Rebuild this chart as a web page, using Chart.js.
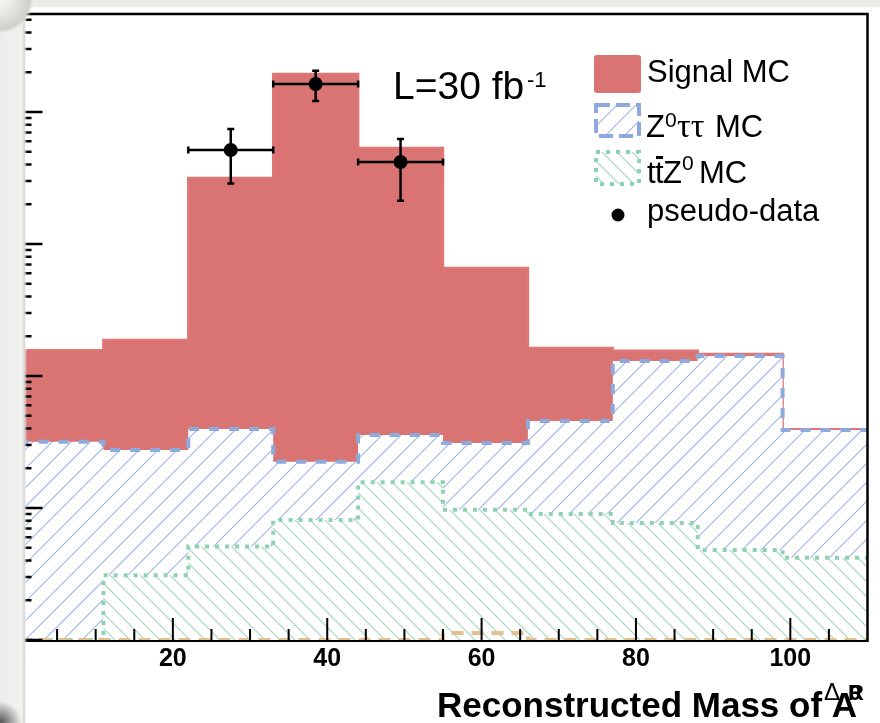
<!DOCTYPE html>
<html lang="en">
<head>
    <meta charset="UTF-8" />
    <title>Reconstructed Mass</title>
    <style>
        html, body {
            margin: 0;
            padding: 0;
            background: #fff;
        }
        #chart-container {
            width: 880px;
            height: 723px;
        }
    </style>
    <script src="https://cdn.jsdelivr.net/npm/chart.js"></script>
</head>
<body>
<div id="chart-container">
    <canvas id="massChart" width="880" height="723"></canvas>
</div>

<script>
  // histogram bins (stacked contents, log scale)
  const binEdges = [0, 11, 22, 33, 44, 55, 66, 77, 88, 99, 110];
  const signalStack = [15.7, 18.7, 316, 1940, 534, 65.8, 16.3, 15.5, 14.7, 3.95];
  const ztautauStack = [3.18, 2.75, 3.97, 2.24, 3.57, 3.11, 4.56, 13.0, 14.2, 3.9];
  const ttzStack = [0.1, 0.31, 0.51, 0.81, 1.57, 0.97, 0.9, 0.77, 0.48, 0.42];
  const otherStack = [0.1, 0.1, 0.1, 0.1, 0.1, 0.113, 0.1, 0.1, 0.1, 0.1];

  // pseudo-data points
  const dataX = [27.5, 38.5, 49.5];
  const dataY = [515, 1630, 418];
  const dataErr = [228, 420, 205];

  const xTickLabels = [0, 20, 40, 60, 80, 100];

  const SANS = '"Liberation Sans", Arial, Helvetica, sans-serif';
  const SERIF = '"Liberation Serif", "Times New Roman", serif';

  const canvas = document.getElementById("massChart");
  const ctx = canvas.getContext("2d");

  function steps(vals) {
    return binEdges.map((e, i) => ({ x: e, y: vals[Math.min(i, vals.length - 1)] }));
  }

  function hatch(color, size, dir) {
    const c = document.createElement("canvas");
    c.width = size;
    c.height = size;
    const g = c.getContext("2d");
    g.fillStyle = "#fff";
    g.fillRect(0, 0, size, size);
    g.strokeStyle = color;
    g.lineWidth = 1.1;
    g.beginPath();
    if (dir === "/") {
      g.moveTo(-1, size + 1); g.lineTo(size + 1, -1);
      g.moveTo(-1, 1); g.lineTo(1, -1);
      g.moveTo(size - 1, size + 1); g.lineTo(size + 1, size - 1);
    } else {
      g.moveTo(-1, -1); g.lineTo(size + 1, size + 1);
      g.moveTo(size - 1, -1); g.lineTo(size + 1, 1);
      g.moveTo(-1, size - 1); g.lineTo(1, size + 1);
    }
    g.stroke();
    return ctx.createPattern(c, "repeat");
  }

  const blueHatch = hatch("#9db5e6", 19, "/");
  const greenHatch = hatch("#9fd6bb", 15, "\\");

  const rootFrame = {
    id: "rootFrame",
    beforeDatasetsDraw(chart) {
      // x axis line goes under the histograms, like ROOT
      const { ctx, chartArea: a } = chart;
      ctx.save();
      ctx.strokeStyle = "#000";
      ctx.lineWidth = 2.5;
      ctx.beginPath();
      ctx.moveTo(a.left, a.bottom + 0.75);
      ctx.lineTo(a.right, a.bottom + 0.75);
      ctx.stroke();
      ctx.restore();
    },
    afterDatasetsDraw(chart) {
      const { ctx, scales: { x, y } } = chart;
      const half = (binEdges[1] - binEdges[0]) / 2;
      ctx.save();
      ctx.strokeStyle = "#000";
      ctx.lineWidth = 2.5;
      dataX.forEach((cx, i) => {
        const px = x.getPixelForValue(cx);
        const py = y.getPixelForValue(dataY[i]);
        const x0 = x.getPixelForValue(cx - half);
        const x1 = x.getPixelForValue(cx + half);
        const y0 = y.getPixelForValue(dataY[i] + dataErr[i]);
        const y1 = y.getPixelForValue(dataY[i] - dataErr[i]);
        ctx.beginPath();
        ctx.moveTo(x0, py); ctx.lineTo(x1, py);
        ctx.moveTo(px, y0); ctx.lineTo(px, y1);
        ctx.moveTo(x0, py - 3.5); ctx.lineTo(x0, py + 3.5);
        ctx.moveTo(x1, py - 3.5); ctx.lineTo(x1, py + 3.5);
        ctx.moveTo(px - 3.5, y0); ctx.lineTo(px + 3.5, y0);
        ctx.moveTo(px - 3.5, y1); ctx.lineTo(px + 3.5, y1);
        ctx.stroke();
      });
      ctx.restore();
    },
    afterDraw(chart) {
      const { ctx, chartArea: a, scales: { x, y } } = chart;
      ctx.save();

      // frame (top, right, left)
      ctx.strokeStyle = "#000";
      ctx.lineWidth = 2.5;
      ctx.beginPath();
      ctx.moveTo(a.left, a.bottom); ctx.lineTo(a.left, a.top);
      ctx.lineTo(a.right, a.top); ctx.lineTo(a.right, a.bottom + 2);
      ctx.stroke();

      // x ticks (inward)
      ctx.lineWidth = 2;
      ctx.beginPath();
      for (let v = 5; v < x.max; v += 5) {
        const px = x.getPixelForValue(v);
        const len = v % 20 === 0 ? 22 : 11;
        ctx.moveTo(px, a.bottom); ctx.lineTo(px, a.bottom - len);
      }
      ctx.stroke();

      // y ticks (log, inward)
      ctx.lineWidth = 2.5;
      ctx.beginPath();
      for (let d = y.min; d < y.max; d *= 10) {
        for (let m = 1; m < 10; m++) {
          const v = m * d;
          if (v > y.max) break;
          const py = y.getPixelForValue(v);
          const len = m === 1 ? 24 : 13;
          ctx.moveTo(a.left, py); ctx.lineTo(a.left + len, py);
        }
      }
      ctx.stroke();

      // x tick labels
      ctx.fillStyle = "#000";
      ctx.font = "bold 25px " + SANS;
      ctx.textAlign = "center";
      ctx.textBaseline = "alphabetic";
      xTickLabels.forEach((v) => {
        ctx.fillText(String(v), x.getPixelForValue(v), a.bottom + 26);
      });

      // axis title
      ctx.textAlign = "left";
      ctx.font = "bold 35px " + SANS;
      ctx.fillText("Reconstructed Mass of A", 437, 717);
      ctx.font = "24px " + SANS;
      ctx.fillText("\u0394", 824, 700);
      ctx.font = "bold 22px " + SANS;
      ctx.fillText("R", 848, 700);
      ctx.fillText("0", 849, 700);

      // luminosity label
      ctx.font = "39px " + SANS;
      ctx.fillText("L=30 fb", 393, 99);
      ctx.font = "22px " + SANS;
      ctx.fillText("-1", 527, 87);

      // legend
      ctx.fillStyle = "#d97472";
      ctx.beginPath();
      ctx.roundRect(594, 55, 47, 38, 3);
      ctx.fill();

      ctx.fillStyle = blueHatch;
      ctx.fillRect(596, 105, 43, 31);
      ctx.strokeStyle = "#8eaadc";
      ctx.lineWidth = 4;
      ctx.setLineDash([14, 6]);
      ctx.strokeRect(596, 105, 43, 31);

      ctx.fillStyle = greenHatch;
      ctx.fillRect(596, 152, 43, 32);
      ctx.strokeStyle = "#8fd2b0";
      ctx.setLineDash([4, 6]);
      ctx.strokeRect(596, 152, 43, 32);
      ctx.setLineDash([]);

      ctx.fillStyle = "#000";
      ctx.beginPath();
      ctx.arc(618, 215, 6.5, 0, Math.PI * 2);
      ctx.fill();

      ctx.font = "31px " + SANS;
      ctx.fillText("Signal MC", 647, 82);
      ctx.fillText("Z", 646, 137);
      ctx.fillText("MC", 715, 137);
      ctx.fillText("t", 647, 183);
      ctx.fillText("t", 655, 183);
      ctx.fillText("Z", 663, 183);
      ctx.fillText("MC", 699, 183);
      ctx.fillText("pseudo-data", 647, 221);
      ctx.font = "21px " + SANS;
      ctx.fillText("0", 665, 127);
      ctx.fillText("0", 682, 170);
      ctx.font = "34px " + SERIF;
      ctx.fillText("\u03c4\u03c4", 677, 137);
      ctx.fillRect(656, 156, 7, 3);

      // photo frame around the slide
      const lg = ctx.createLinearGradient(0, 0, 27, 0);
      lg.addColorStop(0, "#ecece9");
      lg.addColorStop(0.8, "#f1f1ef");
      lg.addColorStop(0.9, "#d6d6d4");
      lg.addColorStop(1, "rgba(255,255,255,0)");
      ctx.fillStyle = lg;
      ctx.fillRect(0, 0, 27, 723);
      const tg = ctx.createLinearGradient(0, 0, 0, 9);
      tg.addColorStop(0, "#e9e9e6");
      tg.addColorStop(0.7, "#ecece9");
      tg.addColorStop(1, "rgba(255,255,255,0)");
      ctx.fillStyle = tg;
      ctx.fillRect(0, 0, 880, 9);
      const cg = ctx.createRadialGradient(0, 0, 4, 0, 0, 34);
      cg.addColorStop(0, "#f3f3f1");
      cg.addColorStop(0.6, "#dcdcd7");
      cg.addColorStop(0.85, "#cfcfca");
      cg.addColorStop(1, "rgba(230,230,226,0)");
      ctx.fillStyle = cg;
      ctx.fillRect(0, 0, 36, 36);
      const bg = ctx.createRadialGradient(0, 723, 2, 0, 723, 22);
      bg.addColorStop(0, "rgba(60,60,60,0.8)");
      bg.addColorStop(1, "rgba(60,60,60,0)");
      ctx.fillStyle = bg;
      ctx.fillRect(0, 700, 24, 23);

      ctx.restore();
    },
  };

  new Chart(ctx, {
    type: "line",
    data: {
      datasets: [
        {
          label: "pseudo-data",
          data: dataX.map((v, i) => ({ x: v, y: dataY[i] })),
          showLine: false,
          pointRadius: 7,
          pointBackgroundColor: "#000",
          pointBorderColor: "#000",
          borderWidth: 0,
        },
        {
          label: "other",
          data: steps(otherStack),
          stepped: "before",
          borderColor: "#e3c08e",
          borderWidth: 4,
          borderDash: [12, 8],
          fill: false,
          pointRadius: 0,
        },
        {
          label: "ttZ0 MC",
          data: steps(ttzStack),
          stepped: "before",
          borderColor: "#8fd2b0",
          borderWidth: 4,
          borderDash: [4, 6],
          backgroundColor: greenHatch,
          fill: "start",
          pointRadius: 0,
        },
        {
          label: "Z0tautau MC",
          data: steps(ztautauStack),
          stepped: "before",
          borderColor: "#8eaadc",
          borderWidth: 4,
          borderDash: [10, 10],
          backgroundColor: blueHatch,
          fill: "start",
          pointRadius: 0,
        },
        {
          label: "Signal MC",
          data: steps(signalStack),
          stepped: "before",
          borderColor: "#e07676",
          borderWidth: 2.5,
          backgroundColor: "#d97472",
          fill: "start",
          pointRadius: 0,
        },
      ],
    },
    options: {
      responsive: false,
      animation: false,
      layout: {
        padding: { left: 18.5, right: 12.5, top: 14, bottom: 83 },
      },
      scales: {
        x: { type: "linear", min: 0, max: 110, display: false },
        y: { type: "logarithmic", min: 0.1, max: 5524, display: false },
      },
      plugins: {
        legend: { display: false },
        tooltip: { enabled: false },
      },
    },
    plugins: [rootFrame],
  });
</script>
</body>
</html>
